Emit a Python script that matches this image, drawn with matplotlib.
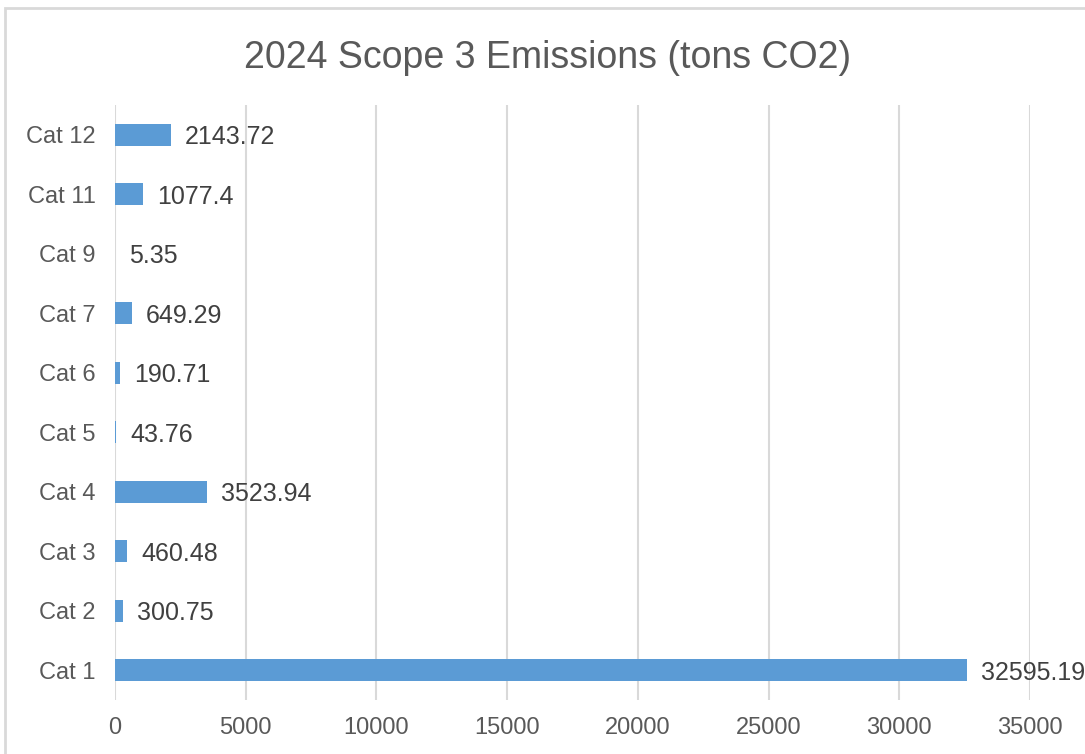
import matplotlib
matplotlib.use("Agg")
import matplotlib.pyplot as plt
from matplotlib.patches import Rectangle

categories = ["Cat 1", "Cat 2", "Cat 3", "Cat 4", "Cat 5", "Cat 6", "Cat 7", "Cat 9", "Cat 11", "Cat 12"]
values = [32595.19, 300.75, 460.48, 3523.94, 43.76, 190.71, 649.29, 5.35, 1077.4, 2143.72]
labels = ["32595.19", "300.75", "460.48", "3523.94", "43.76", "190.71", "649.29", "5.35", "1077.4", "2143.72"]
xticks = [0, 5000, 10000, 15000, 20000, 25000, 30000, 35000]
title = "2024 Scope 3 Emissions (tons CO2)"

plt.rcParams['font.family'] = ['Liberation Sans', 'DejaVu Sans']

fig = plt.figure(figsize=(10.85, 7.54), dpi=100)
fig.patch.set_facecolor("white")
# outer chart border
fig.patches.append(Rectangle((5/1085, -0.1), 1.2, (1 - 8/754) + 0.1, transform=fig.transFigure,
                             fill=False, edgecolor="#D9D9D9", linewidth=2.0, zorder=0))

ax = fig.add_axes([115/1085, 1 - 700/754, (1030 - 115)/1085, (700 - 105)/754])
y = range(len(categories))
ax.barh(y, values, height=0.37, color="#5B9BD5", zorder=3)
ax.set_ylim(-0.5, len(categories) - 0.5)
ax.set_xlim(0, 35000)
ax.set_xticks(xticks)
ax.set_xticklabels([str(t) for t in xticks])
ax.set_yticks(list(y))
ax.set_yticklabels(categories)
ax.tick_params(axis='both', length=0, labelsize=17, colors="#595959")
ax.tick_params(axis='x', pad=12)
ax.tick_params(axis='y', pad=14)
ax.grid(axis='x', color="#D9D9D9", linewidth=1.5, zorder=0)
for s in ["top", "right", "bottom", "left"]:
    ax.spines[s].set_visible(False)

for yi, v, lab in zip(y, values, labels):
    ax.annotate(lab, xy=(v, yi), xytext=(10, 0), textcoords="offset points",
                va="center_baseline", ha="left", fontsize=18, color="#404040", zorder=4)

fig.text(0.505, 1 - 54/754, title, ha="center", va="center_baseline", fontsize=27, color="#595959")

fig.savefig("out.png", dpi=100)
